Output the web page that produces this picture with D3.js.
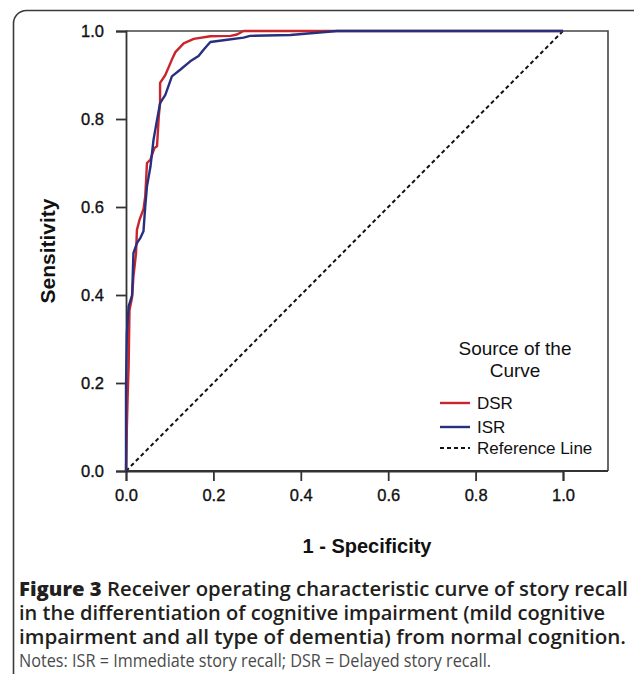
<!DOCTYPE html>
<html>
<head>
<meta charset="utf-8">
<script src="https://cdn.jsdelivr.net/npm/d3@7/dist/d3.min.js"></script>
<style>
  html, body { margin: 0; padding: 0; background: #fff; }
  svg { display: block; }
</style>
</head>
<body>
<svg id="chart" width="634" height="674"></svg>
<script>
// ---- data ----
const xTicks = [0, 0.2, 0.4, 0.6, 0.8, 1.0];
const yTicks = [0, 0.2, 0.4, 0.6, 0.8, 1.0];
const seriesNames = ["DSR", "ISR", "Reference Line"];
const dsrFpr = [0,0.002,0.004,0.006,0.008,0.014,0.017,0.023,0.025,0.031,0.040,0.044,0.048,0.056,0.065,0.071,0.075,0.078,0.078,0.090,0.105,0.113,0.132,0.155,0.193,0.239,0.254,0.269,1.0];
const dsrTpr = [0,0.100,0.177,0.238,0.366,0.395,0.442,0.495,0.548,0.571,0.595,0.624,0.700,0.708,0.734,0.738,0.806,0.836,0.882,0.900,0.935,0.952,0.972,0.982,0.988,0.989,0.992,1.0,1.0];
const isrFpr = [0,0,0.002,0.006,0.014,0.017,0.025,0.033,0.040,0.044,0.048,0.056,0.063,0.071,0.078,0.090,0.105,0.124,0.147,0.166,0.178,0.193,0.223,0.269,0.284,0.376,0.483,1.0];
const isrTpr = [0,0.192,0.314,0.374,0.400,0.495,0.518,0.530,0.545,0.601,0.647,0.692,0.753,0.798,0.836,0.855,0.897,0.912,0.931,0.943,0.958,0.975,0.979,0.985,0.989,0.991,1.0,1.0];
const refFpr = [0, 1];
const refTpr = [0, 1];
const captionLines = [
  "Receiver operating characteristic curve of story recall",
  "in the differentiation of cognitive impairment (mild cognitive",
  "impairment and all type of dementia) from normal cognition."
];
const notesLine = "Notes: ISR = Immediate story recall; DSR = Delayed story recall.";

// ---- layout ----
const svg = d3.select("#chart");
const x = d3.scaleLinear().domain([0, 1]).range([126, 563]);
const y = d3.scaleLinear().domain([0, 1]).range([471, 31]);
const frameRight = 608;
const axisFont = "'Liberation Sans', Arial, sans-serif";

// outer rounded border
svg.append("rect")
  .attr("x", 13.5).attr("y", 10.5)
  .attr("width", 640).attr("height", 680)
  .attr("rx", 13).attr("ry", 13)
  .attr("fill", "none").attr("stroke", "#3a3a3a").attr("stroke-width", 1.6);

// frame (top + right)
svg.append("path")
  .attr("d", `M${x(0)},${y(1)}H${frameRight}V${y(0)}`)
  .attr("fill", "none").attr("stroke", "#444").attr("stroke-width", 1.6);

// axes
const gx = svg.append("g").attr("transform", `translate(0,${y(0)})`)
  .call(d3.axisBottom(x).tickValues(xTicks).tickFormat(d3.format(".1f")).tickSize(10).tickPadding(8));
const gy = svg.append("g").attr("transform", `translate(${x(0)},0)`)
  .call(d3.axisLeft(y).tickValues(yTicks).tickFormat(d3.format(".1f")).tickSize(10).tickPadding(12));
[gx, gy].forEach(g => {
  g.select(".domain").attr("stroke", "#333").attr("stroke-width", 1.8);
  g.selectAll(".tick line").attr("stroke", "#333").attr("stroke-width", 1.8);
  g.selectAll(".tick text").attr("font-family", axisFont).attr("font-size", 16.5)
    .attr("fill", "#111").attr("stroke", "#111").attr("stroke-width", 0.35);
});
// extend x domain line to the frame's right edge
svg.append("line")
  .attr("x1", x(0)).attr("x2", frameRight).attr("y1", y(0)).attr("y2", y(0))
  .attr("stroke", "#333").attr("stroke-width", 1.8);

// reference line
const line = d3.line().x(d => x(d[0])).y(d => y(d[1]));
svg.append("path")
  .datum(refFpr.map((v, i) => [v, refTpr[i]]))
  .attr("d", line).attr("fill", "none")
  .attr("stroke", "#111").attr("stroke-width", 2).attr("stroke-dasharray", "4,3");

// curves
svg.append("path")
  .datum(dsrFpr.map((v, i) => [v, dsrTpr[i]]))
  .attr("d", line).attr("fill", "none")
  .attr("stroke", "#c9252c").attr("stroke-width", 2.4).attr("stroke-linejoin", "round");
svg.append("path")
  .datum(isrFpr.map((v, i) => [v, isrTpr[i]]))
  .attr("d", line).attr("fill", "none")
  .attr("stroke", "#27307f").attr("stroke-width", 2.4).attr("stroke-linejoin", "round");

// axis titles
svg.append("text")
  .attr("transform", `translate(47,${(y(0) + y(1)) / 2}) rotate(-90)`)
  .attr("text-anchor", "middle").attr("dominant-baseline", "central")
  .attr("font-family", axisFont).attr("font-weight", "bold").attr("font-size", 21)
  .attr("fill", "#111").text("Sensitivity");
svg.append("text")
  .attr("x", (x(0) + frameRight) / 2).attr("y", 553)
  .attr("text-anchor", "middle")
  .attr("font-family", axisFont).attr("font-weight", "bold").attr("font-size", 20)
  .attr("fill", "#111").text("1 - Specificity");

// legend
const leg = svg.append("g").attr("font-family", axisFont).attr("fill", "#111");
leg.append("text").attr("x", 515).attr("y", 355).attr("text-anchor", "middle")
  .attr("font-size", 19).text("Source of the");
leg.append("text").attr("x", 515).attr("y", 377).attr("text-anchor", "middle")
  .attr("font-size", 19).text("Curve");
const legY = [403, 427, 448];
const legColors = ["#c9252c", "#27307f", "#111"];
seriesNames.forEach((name, i) => {
  leg.append("line")
    .attr("x1", 440).attr("x2", 470).attr("y1", legY[i]).attr("y2", legY[i])
    .attr("stroke", legColors[i]).attr("stroke-width", i === 2 ? 2 : 2.4)
    .attr("stroke-dasharray", i === 2 ? "4,3" : null);
  leg.append("text").attr("x", 477).attr("y", legY[i]).attr("dominant-baseline", "central")
    .attr("font-size", 17).text(name);
});

// caption
const capFont = "'Open Sans', Lato, sans-serif";
const capY = [596, 620, 644];
const capW = [609, 586, 607];
captionLines.forEach((t, i) => {
  const tx = svg.append("text").attr("x", 19).attr("y", capY[i])
    .attr("font-family", capFont).attr("font-weight", 600).attr("font-size", 19)
    .attr("fill", "#231f20")
    .attr("textLength", capW[i]).attr("lengthAdjust", "spacingAndGlyphs");
  if (i === 0) {
    tx.append("tspan").attr("font-weight", 800).text("Figure 3 ");
  }
  tx.append("tspan").text(t);
});
svg.append("text").attr("x", 19).attr("y", 667)
  .attr("font-family", capFont).attr("font-size", 18).attr("fill", "#4a4a4a")
  .attr("textLength", 472).attr("lengthAdjust", "spacingAndGlyphs")
  .text(notesLine);
</script>
</body>
</html>
